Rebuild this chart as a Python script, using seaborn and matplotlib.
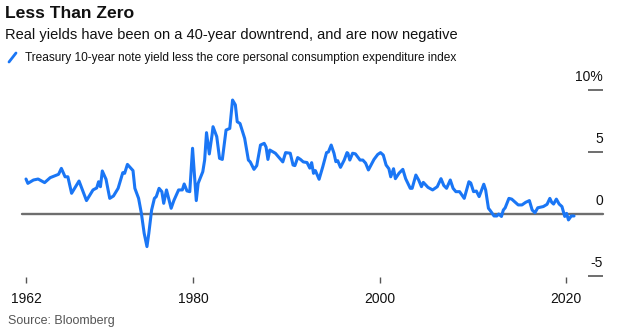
import matplotlib
matplotlib.use("Agg")
import matplotlib.pyplot as plt
import matplotlib.lines as mlines
import seaborn as sns
import pandas as pd

# Real 10-year Treasury yield (yield minus core PCE inflation), percent
years = [
    1962.0, 1962.2, 1962.8, 1963.3, 1964.0, 1964.6, 1965.5, 1965.8, 1966.2, 1966.5,
    1966.9, 1967.7, 1968.5, 1969.2, 1969.6, 1969.8, 1970.0, 1970.2, 1970.6, 1971.0,
    1971.4, 1971.9, 1972.4, 1972.6, 1972.9, 1973.5, 1973.7, 1974.1, 1974.4, 1974.7,
    1975.0, 1975.2, 1975.5, 1975.8, 1976.0, 1976.3, 1976.6, 1976.8, 1977.1, 1977.6,
    1977.9, 1978.4, 1978.8, 1979.0, 1979.3, 1979.6, 1979.9, 1980.3, 1980.5, 1981.0,
    1981.2, 1981.4, 1981.7, 1982.0, 1982.1, 1982.5, 1982.8, 1983.1, 1983.5, 1983.9,
    1984.2, 1984.5, 1984.7, 1985.0, 1985.5, 1985.9, 1986.1, 1986.5, 1986.8, 1987.2,
    1987.6, 1987.8, 1988.0, 1988.2, 1988.8, 1989.2, 1989.6, 1989.9, 1990.4, 1990.7,
    1990.9, 1991.2, 1991.5, 1991.8, 1992.2, 1992.5, 1992.7, 1992.9, 1993.1, 1993.5,
    1993.9, 1994.3, 1994.5, 1994.8, 1995.1, 1995.3, 1995.5, 1995.8, 1996.2, 1996.5,
    1996.6, 1996.8, 1997.1, 1997.4, 1997.9, 1998.2, 1998.5, 1998.8, 1999.4, 1999.8,
    2000.1, 2000.4, 2000.7, 2001.0, 2001.2, 2001.5, 2001.7, 2002.1, 2002.5, 2002.8,
    2003.3, 2003.5, 2003.9, 2004.2, 2004.5, 2004.7, 2005.2, 2005.7, 2006.2, 2006.6,
    2006.9, 2007.2, 2007.6, 2007.9, 2008.2, 2008.6, 2009.1, 2009.6, 2009.8, 2010.1,
    2010.4, 2010.7, 2011.2, 2011.4, 2011.7, 2011.9, 2012.3, 2012.6, 2012.8, 2013.1,
    2013.3, 2013.5, 2013.9, 2014.2, 2014.9, 2015.3, 2015.7, 2016.1, 2016.4, 2016.7,
    2017.0, 2017.6, 2018.0, 2018.3, 2018.5, 2018.7, 2019.0, 2019.3, 2019.6, 2019.9,
    2020.1, 2020.3, 2020.6, 2020.9,
]
real_yield = [
    2.82, 2.47, 2.74, 2.82, 2.53, 2.93, 3.20, 3.68, 3.00, 3.00,
    1.67, 2.66, 1.08, 1.94, 2.10, 2.60, 2.20, 3.47, 2.80, 1.26,
    1.45, 2.07, 3.33, 3.28, 4.00, 3.50, 2.07, 1.26, 0.05, -1.56,
    -2.63, -1.56, 0.32, 1.26, 1.40, 2.07, 1.80, 0.86, 1.94, 0.46,
    1.10, 1.94, 1.94, 2.42, 1.86, 1.80, 5.30, 1.08, 2.47, 3.41,
    4.35, 6.56, 4.84, 6.40, 7.04, 6.24, 4.49, 4.40, 6.77, 6.90,
    9.19, 8.80, 7.44, 7.30, 6.10, 4.35, 4.20, 3.60, 3.90, 5.56,
    5.70, 5.40, 4.40, 5.16, 4.90, 4.55, 4.20, 4.95, 4.90, 3.95,
    3.90, 4.55, 4.40, 4.20, 4.15, 3.70, 4.14, 3.28, 3.50, 2.80,
    3.82, 4.95, 5.00, 5.56, 4.90, 4.22, 4.30, 3.76, 4.35, 4.95,
    4.90, 4.35, 4.90, 4.85, 4.35, 4.35, 4.10, 3.55, 4.40, 4.80,
    4.95, 4.75, 3.95, 3.65, 3.00, 3.65, 2.85, 3.30, 3.60, 2.85,
    2.07, 2.07, 3.14, 2.74, 2.20, 2.55, 2.15, 1.94, 2.20, 2.85,
    2.30, 2.07, 2.74, 2.07, 1.80, 1.80, 1.26, 2.60, 2.50, 1.80,
    1.85, 1.40, 2.40, 1.94, 0.46, 0.27, -0.16, -0.16, 0.00, -0.20,
    0.32, 0.50, 1.26, 1.20, 0.73, 0.73, 0.94, 1.08, 0.32, 0.10,
    0.50, 0.60, 0.78, 1.26, 0.94, 0.80, 1.20, 0.80, 0.60, -0.20,
    0.05, -0.48, -0.16, -0.16,
]

x_ticks = [1962, 1980, 2000, 2020]
y_ticks = [-5, 0, 5, 10]
y_tick_labels = ["-5", "0", "5", "10%"]

title = "Less Than Zero"
subtitle = "Real yields have been on a 40-year downtrend, and are now negative"
series_name = "Treasury 10-year note yield less the core personal consumption expenditure index"
source = "Source: Bloomberg"

BLUE = "#1a76f5"
AXIS_GREY = "#6e6e6e"
TEXT = "#111111"

sns.set_theme(style="white")
plt.rcParams["font.family"] = ["Liberation Sans", "DejaVu Sans"]

df = pd.DataFrame({"year": years, "real_yield": real_yield})

W, H = 620, 332
fig = plt.figure(figsize=(W / 100, H / 100), dpi=100)

# axes placed in pixel terms
left, right, top, bottom = 22, 588, 83.8, 276.6
ax = fig.add_axes([left / W, 1 - bottom / H, (right - left) / W, (bottom - top) / H])

sns.lineplot(data=df, x="year", y="real_yield", ax=ax, color=BLUE,
             linewidth=2.2, zorder=3)

ax.set_xlim(1961.57, 2022.4)
ax.set_ylim(-5.05, 10.5)

# zero reference line extends under the right-hand tick marks
ax.axhline(0, xmin=0, xmax=(603 - left) / (right - left), color=AXIS_GREY,
           linewidth=1.7, zorder=2, clip_on=False)

for s in ax.spines.values():
    s.set_visible(False)

ax.set_xlabel("")
ax.set_ylabel("")

# x axis: short tick marks with year labels
ax.set_xticks(x_ticks)
ax.set_xticklabels([str(t) for t in x_ticks])
ax.tick_params(axis="x", bottom=True, length=4, width=1, color="#555555",
               pad=7, labelsize=10, labelcolor=TEXT)

# y axis: tick marks on the right, labels sitting above each mark
ax.yaxis.tick_right()
ax.set_yticks(y_ticks)
ax.set_yticklabels([])
ax.tick_params(axis="y", right=True, left=False, length=11, width=1.2,
               color="#555555")
for v, lab in zip(y_ticks, y_tick_labels):
    ax.annotate(lab, xy=(1.0, v), xycoords=("axes fraction", "data"),
                xytext=(15 * 0.72, 4), textcoords="offset points",
                ha="right", va="bottom", fontsize=10, color=TEXT)

# header texts
fig.text(5 / W, 1 - 14 / H, title, fontsize=12.6, fontweight="bold",
         color=TEXT, va="center", ha="left")
fig.text(5 / W, 1 - 35 / H, subtitle, fontsize=10.5, color=TEXT,
         va="center", ha="left")
fig.add_artist(mlines.Line2D([9 / W, 16 / W], [1 - 62 / H, 1 - 53 / H],
                             color=BLUE, linewidth=2.0))
fig.text(25 / W, 1 - 58 / H, series_name, fontsize=8.6, color=TEXT,
         va="center", ha="left")
fig.text(8 / W, 1 - 321 / H, source, fontsize=9, color="#555555",
         va="center", ha="left")

fig.savefig("out.png", dpi=100, facecolor="white")
